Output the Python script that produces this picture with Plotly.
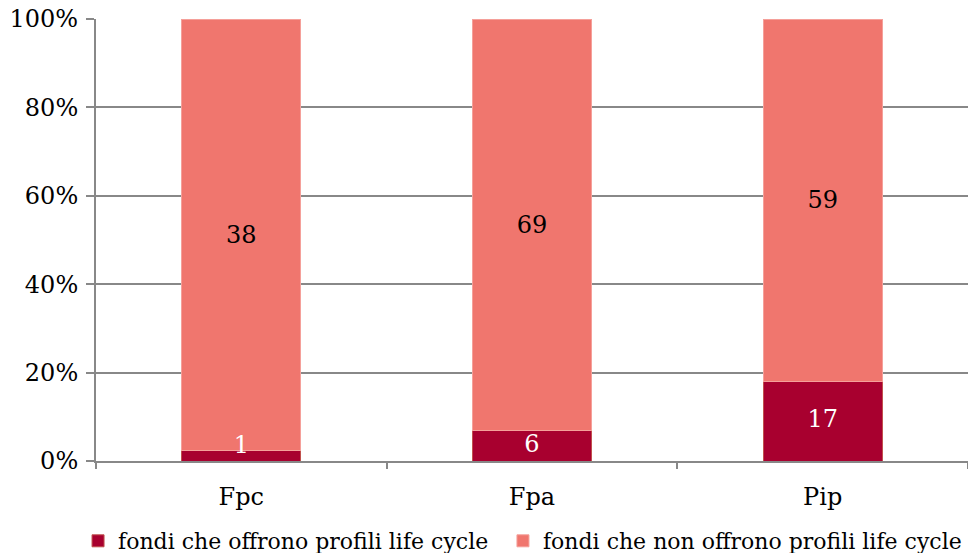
import plotly.graph_objects as go

categories = ["Fpc", "Fpa", "Pip"]
offer_counts = [1, 6, 17]
no_offer_counts = [38, 69, 59]
offer_share = [2.3, 7.0, 18.1]
no_offer_share = [97.7, 93.0, 81.9]
y_ticks = [0, 20, 40, 60, 80, 100]
y_tick_labels = ["0%", "20%", "40%", "60%", "80%", "100%"]

FONT = "DejaVu Serif"

fig = go.Figure()
fig.add_trace(go.Bar(
    x=categories, y=offer_share, name="fondi che offrono profili life cycle",
    marker=dict(color="#A8002F", line=dict(color="#C0504D", width=1)),
    width=0.41, legend="legend",
))
fig.add_trace(go.Bar(
    x=categories, y=no_offer_share, name="fondi che non offrono profili life cycle",
    marker=dict(color="#F0766E", line=dict(color="#F5A09A", width=1)),
    text=[str(v) for v in no_offer_counts], textposition="inside",
    insidetextanchor="middle", textangle=0,
    textfont=dict(family=FONT, size=24, color="black"),
    width=0.41, legend="legend2",
))
# labels of the dark segments, centred on each segment
fig.add_trace(go.Scatter(
    x=categories, y=[max(v / 2, 3.2) for v in offer_share], mode="text",
    text=[str(v) for v in offer_counts], textposition="middle center",
    textfont=dict(family=FONT, size=24, color="white"),
    showlegend=False, hoverinfo="skip", cliponaxis=False,
))

legend_style = dict(orientation="h", xanchor="left", y=-0.181, yanchor="middle",
                    font=dict(family=FONT, size=22), itemwidth=30,
                    bgcolor="rgba(0,0,0,0)")

fig.update_layout(
    barmode="stack",
    width=968, height=553,
    margin=dict(l=96, r=0, t=19, b=92, autoexpand=False),
    plot_bgcolor="white", paper_bgcolor="white",
    font=dict(family=FONT, size=22, color="black"),
    showlegend=True,
    hovermode=False,
    legend=dict(x=-0.0206, **legend_style),
    legend2=dict(x=0.4667, **legend_style),
    xaxis=dict(showline=True, linecolor="#888888", linewidth=2, automargin=False,
               ticks="outside", tickson="boundaries", ticklen=6, tickcolor="#888888",
               tickwidth=2, tickfont=dict(family=FONT, size=24), ticklabelstandoff=13),
    yaxis=dict(range=[0, 100], tickvals=y_ticks, ticktext=y_tick_labels, automargin=False,
               showgrid=True, gridcolor="#888888", gridwidth=2,
               showline=True, linecolor="#888888", linewidth=2,
               ticks="outside", ticklen=8, tickcolor="#888888", tickwidth=2,
               tickfont=dict(family=FONT, size=24), zeroline=False, ticklabelstandoff=3,
               ticklabeloverflow="allow"),
)
fig.update_traces(selector=dict(type="bar"), constraintext="none", cliponaxis=False)

fig.write_html("out.html", config={"displayModeBar": False},
               post_script="document.body.style.margin='0';")
